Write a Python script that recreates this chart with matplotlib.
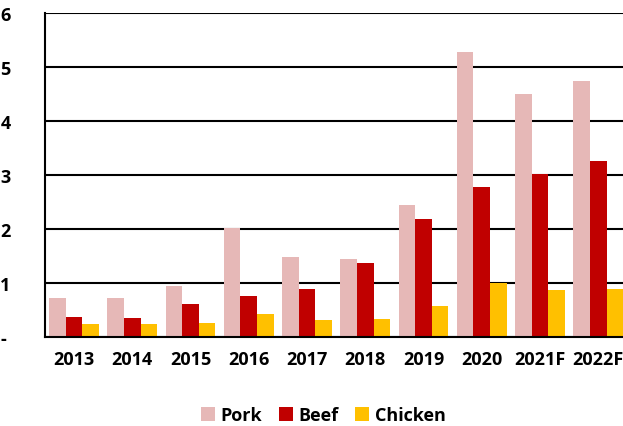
import matplotlib.pyplot as plt
import numpy as np

plt.rcParams['font.family'] = ['Open Sans', 'DejaVu Sans']
plt.rcParams['font.weight'] = 'bold'

years = ["2013", "2014", "2015", "2016", "2017", "2018", "2019", "2020", "2021F", "2022F"]
pork = [0.72, 0.72, 0.94, 2.02, 1.48, 1.44, 2.44, 5.28, 4.50, 4.74]
beef = [0.37, 0.36, 0.61, 0.76, 0.89, 1.37, 2.18, 2.78, 3.02, 3.26]
chicken = [0.24, 0.25, 0.26, 0.43, 0.31, 0.33, 0.57, 1.00, 0.87, 0.89]

ytick_vals = [0, 1, 2, 3, 4, 5, 6]
ytick_labels = ["-", "1", "2", "3", "4", "5", "6"]

fig = plt.figure(figsize=(6.23, 4.27), dpi=100)
ax = fig.add_axes([0.072, 0.208, 0.935, 0.759])

x = np.arange(len(years))
w = 0.285
ax.bar(x - w, pork, w, color="#E6B8B7", label="Pork", zorder=3)
ax.bar(x, beef, w, color="#C00000", label="Beef", zorder=3)
ax.bar(x + w, chicken, w, color="#FFC000", label="Chicken", zorder=3)

ax.set_ylim(0, 6)
ax.set_xlim(-0.5, len(years) - 0.5)
ax.set_yticks(ytick_vals)
ax.set_yticklabels(ytick_labels, fontweight="bold", fontsize=13)
ax.set_xticks(x)
ax.set_xticklabels(years, fontweight="bold", fontsize=13)
ax.tick_params(axis="both", length=0)
ax.tick_params(axis="y", pad=32)
ax.tick_params(axis="x", pad=9)
for lab in ax.get_yticklabels():
    lab.set_horizontalalignment("left")

ax.yaxis.grid(True, color="black", linewidth=1.5, zorder=1)
ax.spines["top"].set_visible(False)
ax.spines["right"].set_visible(False)
ax.spines["left"].set_linewidth(1.5)
ax.spines["bottom"].set_linewidth(1.5)
ax.spines["bottom"].set_zorder(4)

ax.legend(loc="upper center", bbox_to_anchor=(0.478, -0.163), ncol=3, frameon=False,
          prop={"weight": "bold", "size": 13}, handlelength=0.8, handleheight=0.8,
          handletextpad=0.3, columnspacing=0.9)

fig.savefig("out.png", dpi=100)
